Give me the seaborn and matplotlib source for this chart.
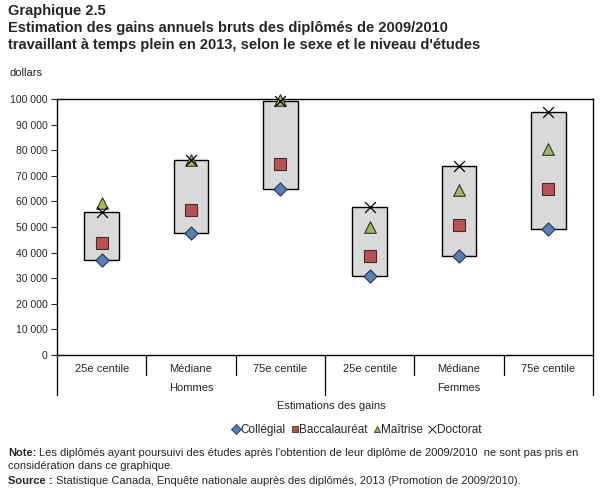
import matplotlib
matplotlib.use("Agg")
import matplotlib.pyplot as plt
import seaborn as sns
import pandas as pd
from matplotlib.lines import Line2D

sns.set_style("white")
plt.rcParams['font.family'] = ['Liberation Sans', 'DejaVu Sans']

# ---- data ----
categories = ["25e centile", "Médiane", "75e centile", "25e centile", "Médiane", "75e centile"]
groups = ["Hommes", "Femmes"]
collegial = [37000, 47800, 64800, 31000, 38700, 49200]
baccalaureat = [43700, 56600, 74500, 38700, 50700, 64800]
maitrise = [59500, 76000, 99600, 50100, 64500, 80500]
doctorat = [56000, 76200, 99400, 58000, 73900, 94800]
series_names = ["Collégial", "Baccalauréat", "Maîtrise", "Doctorat"]
yticks = [0, 10000, 20000, 30000, 40000, 50000, 60000, 70000, 80000, 90000, 100000]

rows = []
for i in range(len(categories)):
    for name, vals in zip(series_names, [collegial, baccalaureat, maitrise, doctorat]):
        rows.append({"pos": i, "serie": name, "valeur": vals[i]})
df = pd.DataFrame(rows)

colors = {"Collégial": "#4f81bd", "Baccalauréat": "#c0504d", "Maîtrise": "#9bbb59", "Doctorat": "#000000"}
markers = {"Collégial": "D", "Baccalauréat": "s", "Maîtrise": "^", "Doctorat": "x"}
sizes = {"Collégial": 45, "Baccalauréat": 70, "Maîtrise": 70, "Doctorat": 60}

fig = plt.figure(figsize=(6.07, 4.93), dpi=100)
ax = fig.add_axes([57/607, 1-355/493, 536/607, 256/493])

# floating boxes from Collégial to Doctorat
pos = list(range(len(categories)))
heights = [d - c for c, d in zip(collegial, doctorat)]
ax.bar(pos, heights, bottom=collegial, width=0.39, color="#d9d9d9",
       edgecolor="black", linewidth=1.0, zorder=2)

for name in series_names:
    sub = df[df["serie"] == name]
    kw = dict(edgecolor="#333333", linewidth=0.8) if name != "Doctorat" else dict(linewidth=0.9)
    sns.scatterplot(data=sub, x="pos", y="valeur", marker=markers[name],
                    color=colors[name], s=sizes[name], ax=ax, zorder=3,
                    clip_on=False, legend=False, **kw)

ax.set_xlim(-0.5, len(categories) - 0.5)
ax.set_ylim(0, 100000)
ax.set_yticks(yticks)
ax.set_yticklabels([f"{v:,}".replace(",", " ") for v in yticks], fontsize=7.5)
ax.tick_params(axis="y", direction="out", length=4, width=0.8, left=True, pad=3)
ax.set_xticks([])
ax.set_xlabel("")
ax.set_ylabel("")
for s in ax.spines.values():
    s.set_color("black")
    s.set_linewidth(1.0)

# two-level categorical axis
trans = ax.get_xaxis_transform()
for i, c in enumerate(categories):
    ax.text(i, -0.053, c, transform=trans, ha="center", va="center", fontsize=8)
for b in [0.5, 1.5, 3.5, 4.5]:
    ax.plot([b, b], [0, -0.078], transform=trans, color="black", lw=0.9, clip_on=False)
for b in [-0.5, 2.5, 5.5]:
    ax.plot([b, b], [0, -0.155], transform=trans, color="black", lw=0.9, clip_on=False)
for g, center in zip(groups, [1, 4]):
    ax.text(center, -0.129, g, transform=trans, ha="center", va="center", fontsize=8)

fig.text(331/607, 1-406/493, "Estimations des gains", ha="center", va="center", fontsize=8)

handles = [Line2D([], [], linestyle="none", marker=markers[n], color=colors[n],
                  markeredgecolor="#333333" if n != "Doctorat" else "black",
                  markersize=5 if n != "Doctorat" else 6, markeredgewidth=0.6) for n in series_names]
fig.legend(handles, series_names, loc="center", bbox_to_anchor=(356/607, 1-430/493),
           ncol=4, frameon=False, fontsize=8.5, handletextpad=-0.1, columnspacing=0.35,
           handlelength=0.9)

# titles
fig.text(8/607, 1-11/493, "Graphique 2.5", ha="left", va="center", fontsize=10.5, fontweight="bold")
fig.text(8/607, 1-28/493, "Estimation des gains annuels bruts des diplômés de 2009/2010",
         ha="left", va="center", fontsize=10.5, fontweight="bold")
fig.text(8/607, 1-45/493, "travaillant à temps plein en 2013, selon le sexe et le niveau d'études",
         ha="left", va="center", fontsize=10.5, fontweight="bold")
fig.text(10/607, 1-73/493, "dollars", ha="left", va="center", fontsize=8)

# notes
renderer = fig.canvas.get_renderer()
def bold_lead(y, lead, rest):
    t = fig.text(8/607, 1-y/493, lead, ha="left", va="center", fontsize=8, fontweight="bold")
    bb = t.get_window_extent(renderer=renderer)
    fig.text((bb.x1 + 3)/607, 1-y/493, rest, ha="left", va="center", fontsize=8)

bold_lead(453, "Note:", "Les diplômés ayant poursuivi des études après l'obtention de leur diplôme de 2009/2010  ne sont pas pris en")
fig.text(8/607, 1-466/493, "considération dans ce graphique.", ha="left", va="center", fontsize=8)
bold_lead(481, "Source :", "Statistique Canada, Enquête nationale auprès des diplômés, 2013 (Promotion de 2009/2010).")

fig.savefig("out.png", dpi=100)
